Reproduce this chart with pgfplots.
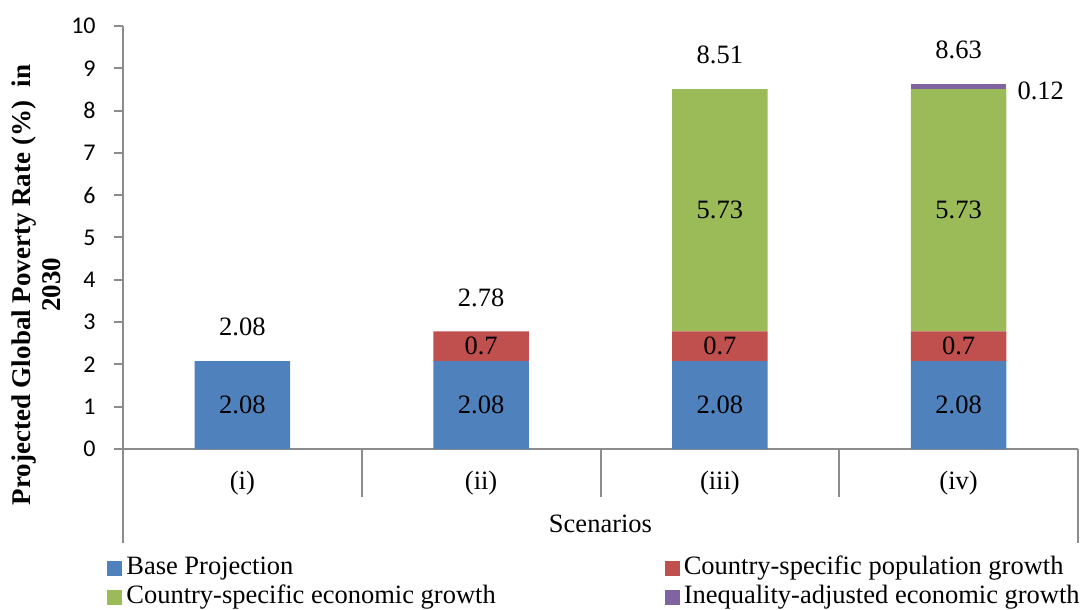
\documentclass[border=0pt]{standalone}
\usepackage{pgfplots}
\pgfplotsset{compat=1.18}
\usepackage{fontspec}
\setmainfont{Liberation Serif}
\newfontfamily\calibri{Carlito}

\definecolor{cBase}{HTML}{4F81BD}
\definecolor{cPop}{HTML}{C0504D}
\definecolor{cEcon}{HTML}{9BBB59}
\definecolor{cIneq}{HTML}{8064A2}
\definecolor{axisgray}{HTML}{8C8C8C}

\tikzset{lbl/.style={inner sep=0pt, anchor=center}}

\begin{document}
\begin{tikzpicture}[font=\fontsize{13.25bp}{15bp}\selectfont]
\useasboundingbox (0,0) rectangle (542bp,305bp);
\begin{axis}[
  at={(61.5bp,80.5bp)}, anchor=south west,
  width=477.5bp, height=211.5bp, scale only axis,
  ybar stacked, bar width=0.4,
  xmin=-0.5, xmax=3.5, ymin=0, ymax=10,
  xtick={0,1,2,3}, xticklabels={(i),(ii),(iii),(iv)},
  xtick style={draw=none},
  xticklabel style={anchor=center, inner sep=0pt, yshift=-12.5bp},
  ytick={0,1,2,3,4,5,6,7,8,9,10},
  ytick pos=left,
  tick align=outside, major tick length=4.5bp,
  axis lines*=left,
  axis line style={axisgray, line width=1bp},
  ytick style={axisgray, line width=1bp},
  /pgf/number format/assume math mode=true,
  yticklabel style={font=\calibri\fontsize{12bp}{14bp}\selectfont, anchor=east, inner sep=0pt, xshift=-9bp},
  xlabel={Scenarios},
  xlabel style={at={(axis description cs:0.5,0)}, anchor=center, yshift=-37.5bp},
  clip=false,
  legend columns=2,
  legend cell align=left,
  legend image code/.code={\fill[#1] (0bp,-3.75bp) rectangle (7.5bp,3.75bp);},
  legend style={
    at={(axis description cs:-0.0168,-0.2482)}, anchor=north west,
    draw=none, fill=none, inner sep=0pt, row sep=0pt,
    nodes={inner sep=1bp, text height=9bp, text depth=3.5bp},
    /tikz/every odd column/.append style={column sep=1bp},
    /tikz/every even column/.append style={column sep=83.5bp},
  },
  legend entries={Base Projection, Country-specific population growth,
        Country-specific economic growth, Inequality-adjusted economic growth},
]
% stacked components of the 2030 poverty rate
\addplot[fill=cBase, draw=none] coordinates {(0,2.08) (1,2.08) (2,2.08) (3,2.08)};
\addplot[fill=cPop, draw=none] coordinates {(0,0) (1,0.7) (2,0.7) (3,0.7)};
\addplot[fill=cEcon, draw=none] coordinates {(0,0) (1,0) (2,5.73) (3,5.73)};
\addplot[fill=cIneq, draw=none] coordinates {(0,0) (1,0) (2,0) (3,0.12)};

% category separators below the x axis
\draw[axisgray, line width=1bp] (axis cs:-0.5,0) -- (axis cs:-0.5,-2.222);
\draw[axisgray, line width=1bp] (axis cs:0.5,0) -- (axis cs:0.5,-1.135);
\draw[axisgray, line width=1bp] (axis cs:1.5,0) -- (axis cs:1.5,-1.135);
\draw[axisgray, line width=1bp] (axis cs:2.5,0) -- (axis cs:2.5,-1.135);
\draw[axisgray, line width=1bp] (axis cs:3.5,0) -- (axis cs:3.5,-2.222);

% anchor points for the value labels (segment centres and bar tops)
\coordinate (base0) at (axis cs:0,1.04);
\coordinate (base1) at (axis cs:1,1.04);
\coordinate (base2) at (axis cs:2,1.04);
\coordinate (base3) at (axis cs:3,1.04);
\coordinate (pop1) at (axis cs:1,2.43);
\coordinate (pop2) at (axis cs:2,2.43);
\coordinate (pop3) at (axis cs:3,2.43);
\coordinate (econ2) at (axis cs:2,5.645);
\coordinate (econ3) at (axis cs:3,5.645);
\coordinate (top0) at (axis cs:0,2.08);
\coordinate (top1) at (axis cs:1,2.78);
\coordinate (top2) at (axis cs:2,8.51);
\coordinate (top3) at (axis cs:3,8.63);
\coordinate (ineq3) at (axis cs:3.245,8.46);
\end{axis}

% segment labels
\node[lbl] at (base0) {2.08};
\node[lbl] at (base1) {2.08};
\node[lbl] at (base2) {2.08};
\node[lbl] at (base3) {2.08};
\node[lbl] at (pop1) {0.7};
\node[lbl] at (pop2) {0.7};
\node[lbl] at (pop3) {0.7};
\node[lbl] at (econ2) {5.73};
\node[lbl] at (econ3) {5.73};
% totals above each bar
\node[lbl, yshift=17bp] at (top0) {2.08};
\node[lbl, yshift=17bp] at (top1) {2.78};
\node[lbl, yshift=17bp] at (top2) {8.51};
\node[lbl, yshift=17bp] at (top3) {8.63};
\node[lbl, anchor=west] at (ineq3) {0.12};

% two-line y axis title
\node[rotate=90, font=\fontsize{13.5bp}{15bp}\selectfont\bfseries] at (12bp,162.5bp) {Projected Global Poverty Rate (\%)~ in};
\node[rotate=90, font=\fontsize{13.5bp}{15bp}\selectfont\bfseries] at (26bp,162.5bp) {2030};
\end{tikzpicture}
\end{document}
